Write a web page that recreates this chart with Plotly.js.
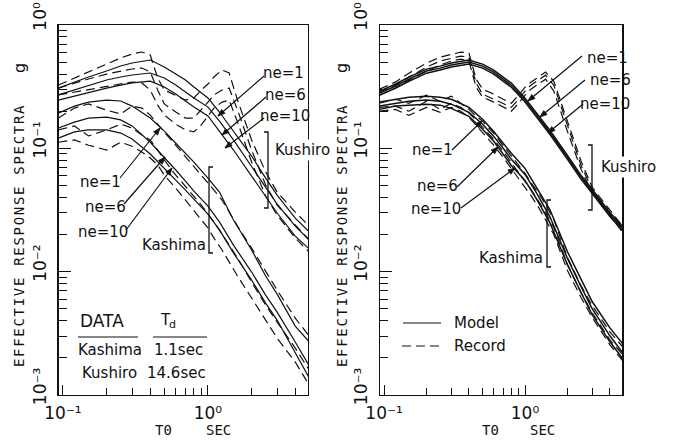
<!DOCTYPE html>
<html>
<head>
<meta charset="utf-8">
<script src="https://cdn.plot.ly/plotly-3.0.1.min.js"></script>
<style>html,body{margin:0;padding:0;background:#fff;}#chart{width:690px;height:440px;}</style>
</head>
<body>
<div id="chart"></div>
<script>
// ---- periods (sec) ----
const T_MODEL  = [0.093, 0.12, 0.15, 0.2, 0.25, 0.3, 0.4, 0.5, 0.6, 0.7, 0.8, 1.0, 1.2, 1.5, 2.0, 2.5, 3.0, 4.0, 5.0];
const T_RECORD = [0.093, 0.12, 0.15, 0.2, 0.25, 0.3, 0.35, 0.4, 0.45, 0.5, 0.6, 0.7, 0.8, 0.9, 1.0, 1.1, 1.25, 1.4, 1.6, 2.0, 2.5, 3.0, 4.0, 5.0];

// ---- left panel ----
const kushiroModelL_ne1  = [0.308,0.345,0.379,0.424,0.465,0.492,0.520,0.456,0.400,0.358,0.314,0.256,0.197,0.138,0.0866,0.0574,0.0418,0.0272,0.0210];
const kushiroModelL_ne6  = [0.271,0.297,0.320,0.358,0.379,0.393,0.408,0.372,0.326,0.286,0.256,0.216,0.166,0.117,0.0718,0.0485,0.0353,0.0234,0.0180];
const kushiroModelL_ne10 = [0.246,0.266,0.281,0.308,0.326,0.339,0.351,0.314,0.276,0.242,0.216,0.183,0.138,0.0969,0.0596,0.0403,0.0299,0.0194,0.0153];
const kushiroRecordL_1  = [0.326,0.372,0.416,0.483,0.540,0.582,0.604,0.571,0.372,0.297,0.266,0.246,0.256,0.297,0.332,0.379,0.432,0.408,0.246,0.117,0.0643,0.0442,0.0304,0.0234];
const kushiroRecordL_6  = [0.308,0.339,0.365,0.400,0.424,0.440,0.448,0.416,0.297,0.229,0.197,0.176,0.176,0.204,0.237,0.271,0.297,0.308,0.204,0.0969,0.0504,0.0347,0.0239,0.0180];
const kushiroRecordL_10 = [0.271,0.286,0.297,0.320,0.332,0.345,0.339,0.297,0.224,0.186,0.157,0.141,0.136,0.155,0.183,0.212,0.237,0.246,0.163,0.0774,0.0410,0.0288,0.0187,0.0144];
const kashimaModelL_ne1  = [0.193,0.220,0.237,0.246,0.242,0.220,0.176,0.138,0.110,0.0916,0.0774,0.0574,0.0442,0.0262,0.0150,0.00921,0.00658,0.00362,0.00269];
const kashimaModelL_ne6  = [0.146,0.163,0.176,0.179,0.170,0.152,0.112,0.0850,0.0667,0.0543,0.0450,0.0340,0.0253,0.0164,0.00993,0.00646,0.00470,0.00269,0.00172];
const kashimaModelL_ne10 = [0.121,0.136,0.141,0.141,0.133,0.119,0.0899,0.0692,0.0553,0.0459,0.0388,0.0293,0.0218,0.0142,0.00855,0.00556,0.00405,0.00223,0.00137];
const kashimaRecordL_1  = [0.176,0.212,0.229,0.204,0.190,0.220,0.212,0.186,0.157,0.136,0.106,0.0866,0.0718,0.0607,0.0523,0.0459,0.0381,0.0304,0.0234,0.0155,0.00993,0.00709,0.00420,0.00300];
const kashimaRecordL_6  = [0.141,0.152,0.126,0.141,0.157,0.146,0.128,0.117,0.0969,0.0804,0.0607,0.0494,0.0410,0.0347,0.0293,0.0253,0.0202,0.0164,0.0129,0.00823,0.00536,0.00390,0.00240,0.00159];
const kashimaRecordL_10 = [0.112,0.117,0.106,0.0969,0.112,0.104,0.0933,0.0834,0.0732,0.0607,0.0476,0.0381,0.0316,0.0262,0.0226,0.0187,0.0150,0.0120,0.00921,0.00611,0.00405,0.00289,0.00185,0.00120];

// ---- right panel ----
const kushiroModelR_ne1  = [0.291,0.331,0.378,0.439,0.464,0.491,0.519,0.482,0.431,0.378,0.338,0.255,0.196,0.140,0.0877,0.0603,0.0464,0.0302,0.0228];
const kushiroModelR_ne6  = [0.280,0.319,0.364,0.423,0.447,0.473,0.500,0.464,0.415,0.364,0.325,0.246,0.189,0.135,0.0845,0.0581,0.0447,0.0291,0.0220];
const kushiroModelR_ne10 = [0.270,0.307,0.350,0.407,0.431,0.456,0.482,0.447,0.400,0.350,0.313,0.237,0.182,0.130,0.0814,0.0560,0.0431,0.0280,0.0211];
const kushiroRecordR_1  = [0.302,0.344,0.407,0.491,0.549,0.581,0.603,0.592,0.364,0.302,0.275,0.250,0.232,0.270,0.313,0.344,0.378,0.415,0.350,0.166,0.0784,0.0482,0.0319,0.0228];
const kushiroRecordR_6  = [0.285,0.325,0.378,0.456,0.510,0.539,0.560,0.549,0.338,0.275,0.250,0.232,0.215,0.250,0.291,0.325,0.357,0.392,0.325,0.151,0.0727,0.0455,0.0302,0.0215];
const kushiroRecordR_10 = [0.270,0.307,0.357,0.423,0.473,0.510,0.529,0.510,0.313,0.260,0.237,0.215,0.200,0.232,0.270,0.302,0.331,0.364,0.291,0.137,0.0675,0.0431,0.0285,0.0204];
const kashimaModelR_ne1  = [0.237,0.250,0.260,0.265,0.260,0.250,0.215,0.172,0.137,0.110,0.0911,0.0688,0.0491,0.0319,0.0145,0.00861,0.00570,0.00350,0.00255];
const kashimaModelR_ne6  = [0.220,0.232,0.241,0.246,0.241,0.228,0.196,0.157,0.125,0.100,0.0814,0.0615,0.0439,0.0280,0.0128,0.00755,0.00500,0.00302,0.00215];
const kashimaModelR_ne10 = [0.207,0.220,0.224,0.228,0.224,0.211,0.182,0.143,0.114,0.0894,0.0727,0.0549,0.0392,0.0250,0.0114,0.00675,0.00447,0.00270,0.00193];
const kashimaRecordR_1  = [0.232,0.250,0.232,0.270,0.241,0.265,0.232,0.207,0.182,0.166,0.132,0.106,0.0861,0.0727,0.0626,0.0529,0.0431,0.0350,0.0265,0.0130,0.00769,0.00529,0.00325,0.00241];
const kashimaRecordR_6  = [0.215,0.220,0.200,0.241,0.207,0.232,0.215,0.193,0.169,0.148,0.118,0.0945,0.0769,0.0638,0.0549,0.0464,0.0371,0.0302,0.0228,0.0114,0.00675,0.00464,0.00280,0.00208];
const kashimaRecordR_10 = [0.200,0.207,0.185,0.215,0.196,0.215,0.200,0.179,0.154,0.135,0.106,0.0845,0.0688,0.0570,0.0491,0.0415,0.0331,0.0265,0.0200,0.0102,0.00615,0.00423,0.00255,0.00186];

// ---- ticks ----
const X_TICKS = [0.1, 1];
const X_TICKTEXT = ['10⁻¹', '10⁰'];
const X_MINOR = [0.2,0.3,0.4,0.5,0.6,0.7,0.8,0.9,2,3,4];
const Y_TICKS = [0.001, 0.01, 0.1, 1];
const Y_TICKTEXT = ['10⁻³', '10⁻²', '10⁻¹', '10⁰'];
const Y_MINOR = [0.002,0.003,0.004,0.005,0.006,0.007,0.008,0.009,0.02,0.03,0.04,0.05,0.06,0.07,0.08,0.09,0.2,0.3,0.4,0.5,0.6,0.7,0.8,0.9];

const INK = '#111';
const P = x => x / 690, Q = y => 1 - y / 440;

function line(xs, ys, axis, dashed, w) {
  return { x: xs, y: ys, type: 'scatter', mode: 'lines', xaxis: 'x' + axis, yaxis: 'y' + axis,
    line: { color: INK, width: w || 1.2, dash: dashed ? '9px,5px' : 'solid' }, hoverinfo: 'skip' };
}
const data = [
  line(T_MODEL, kushiroModelL_ne1, '', false), line(T_MODEL, kushiroModelL_ne6, '', false), line(T_MODEL, kushiroModelL_ne10, '', false),
  line(T_RECORD, kushiroRecordL_1, '', true), line(T_RECORD, kushiroRecordL_6, '', true), line(T_RECORD, kushiroRecordL_10, '', true),
  line(T_MODEL, kashimaModelL_ne1, '', false), line(T_MODEL, kashimaModelL_ne6, '', false), line(T_MODEL, kashimaModelL_ne10, '', false),
  line(T_RECORD, kashimaRecordL_1, '', true), line(T_RECORD, kashimaRecordL_6, '', true), line(T_RECORD, kashimaRecordL_10, '', true),
  line(T_MODEL, kushiroModelR_ne1, '2', false, 1.5), line(T_MODEL, kushiroModelR_ne6, '2', false, 1.5), line(T_MODEL, kushiroModelR_ne10, '2', false, 1.5),
  line(T_RECORD, kushiroRecordR_1, '2', true), line(T_RECORD, kushiroRecordR_6, '2', true), line(T_RECORD, kushiroRecordR_10, '2', true),
  line(T_MODEL, kashimaModelR_ne1, '2', false, 1.5), line(T_MODEL, kashimaModelR_ne6, '2', false, 1.5), line(T_MODEL, kashimaModelR_ne10, '2', false, 1.5),
  line(T_RECORD, kashimaRecordR_1, '2', true), line(T_RECORD, kashimaRecordR_6, '2', true), line(T_RECORD, kashimaRecordR_10, '2', true)
];

const tickFont = { family: 'DejaVu Sans', size: 17, color: INK };
function xax(domain, anchor) {
  return { type: 'log', range: [-1.03, 0.69], domain: domain, anchor: anchor,
    showline: true, linecolor: INK, linewidth: 1.3, mirror: true, showgrid: false, zeroline: false,
    tickmode: 'array', tickvals: X_TICKS, ticktext: X_TICKTEXT, ticks: 'inside', ticklen: 10, tickcolor: INK, tickwidth: 1,
    minor: { tickmode: 'array', tickvals: X_MINOR, ticks: 'inside', ticklen: 7, tickcolor: INK, tickwidth: 1, showgrid: false },
    tickfont: tickFont, ticklabelstandoff: 2, fixedrange: true };
}
function yax(domain, anchor) {
  return { type: 'log', range: [-3, 0], domain: domain, anchor: anchor,
    showline: true, linecolor: INK, linewidth: 1.3, mirror: true, showgrid: false, zeroline: false,
    tickmode: 'array', tickvals: Y_TICKS, ticktext: Y_TICKTEXT, ticks: 'inside', ticklen: 12, tickcolor: INK, tickwidth: 1,
    minor: { tickmode: 'array', tickvals: Y_MINOR, ticks: 'inside', ticklen: 8, tickcolor: INK, tickwidth: 1, showgrid: false },
    tickfont: tickFont, tickangle: -90, ticklabelstandoff: 5, ticklabelshift: -6, ticklabeloverflow: 'allow',
    fixedrange: true };
}

const txtFont = { family: 'DejaVu Sans', size: 15, color: INK };
const monoFont = { family: 'DejaVu Sans Mono', size: 14, color: INK };
function label(x, y, text, extra) {
  return Object.assign({ x: P(x), y: Q(y), xref: 'paper', yref: 'paper', text: text, showarrow: false,
    font: txtFont, xanchor: 'center', yanchor: 'middle' }, extra || {});
}
const annotations = [
  // left panel, Kushiro
  label(283, 73, 'ne=1'), label(285, 95, 'ne=6'), label(285, 116, 'ne=10'),
  label(302, 150, 'Kushiro', { bgcolor: '#fff' }),
  // left panel, Kashima
  label(100, 182, 'ne=1'), label(105, 207, 'ne=6'), label(103, 232, 'ne=10'),
  label(174, 245, 'Kashima'),
  // table
  label(102, 321, 'DATA', { font: { family: 'DejaVu Sans', size: 17, color: INK } }),
  label(165, 320, 'T'), label(172, 324, 'd', { font: { family: 'DejaVu Sans', size: 11, color: INK } }),
  label(110, 350, 'Kashima'), label(178, 350, '1.1sec'),
  label(109, 373, 'Kushiro'), label(176, 373, '14.6sec'),
  // left axis titles
  label(19, 235, 'EFFECTIVE RESPONSE SPECTRA', { font: monoFont, textangle: -90 }),
  label(19, 68, 'g', { font: { family: 'DejaVu Sans', size: 16, color: INK }, textangle: -90 }),
  label(163, 430, 'T0', { font: monoFont }), label(218, 430, 'SEC', { font: monoFont }),
  // right panel, Kushiro
  label(607, 58, 'ne=1'), label(610, 80, 'ne=6'), label(605, 104, 'ne=10'),
  label(628, 167, 'Kushiro', { bgcolor: '#fff' }),
  // right panel, Kashima
  label(432, 150, 'ne=1'), label(437, 186, 'ne=6'), label(436, 209, 'ne=10'),
  label(511, 258, 'Kashima'),
  // legend
  label(476, 323, 'Model'), label(480, 346, 'Record'),
  // right axis titles
  label(342, 235, 'EFFECTIVE RESPONSE SPECTRA', { font: monoFont, textangle: -90 }),
  label(341, 68, 'g', { font: { family: 'DejaVu Sans', size: 16, color: INK }, textangle: -90 }),
  label(490, 430, 'T0', { font: monoFont }), label(542, 430, 'SEC', { font: monoFont })
];

function seg(x0, y0, x1, y1, dash) {
  return { type: 'line', xref: 'paper', yref: 'paper', x0: P(x0), y0: Q(y0), x1: P(x1), y1: Q(y1),
    line: { color: INK, width: 1.2, dash: dash || 'solid' } };
}
function bracket(x, y0, y1, dir) {
  return { type: 'path', xref: 'paper', yref: 'paper', line: { color: INK, width: 1.3 },
    path: `M ${P(x + dir * 4)} ${Q(y0)} L ${P(x)} ${Q(y0)} L ${P(x)} ${Q(y1)} L ${P(x + dir * 4)} ${Q(y1)}` };
}
function arrow(tx, ty, hx, hy) {
  const dx = hx - tx, dy = hy - ty, L = Math.hypot(dx, dy), ux = dx / L, uy = dy / L;
  const bx = hx - ux * 7, by = hy - uy * 7, nx = -uy * 2.6, ny = ux * 2.6;
  return [
    seg(tx, ty, hx, hy),
    { type: 'path', xref: 'paper', yref: 'paper', fillcolor: INK, line: { color: INK, width: 0.8 },
      path: `M ${P(hx)} ${Q(hy)} L ${P(bx + nx)} ${Q(by + ny)} L ${P(bx - nx)} ${Q(by - ny)} Z` }
  ];
}
const shapes = [
  seg(78, 337, 138, 337), seg(153, 337, 207, 337),
  bracket(268, 132, 208, -1), bracket(209, 167, 253, 1),
  bracket(592, 145, 210, -1), bracket(547, 200, 267, 1),
  seg(403, 323, 441, 323), seg(402, 346, 441, 346, '9px,5px'),
  ...arrow(264, 76, 218, 116), ...arrow(266, 97, 222, 135), ...arrow(264, 118, 225, 148),
  ...arrow(120, 178, 160, 128), ...arrow(124, 204, 165, 157), ...arrow(126, 230, 172, 168),
  ...arrow(582, 56, 528, 101), ...arrow(585, 80, 540, 117), ...arrow(583, 104, 548, 133),
  ...arrow(452, 150, 482, 121), ...arrow(457, 187, 498, 147), ...arrow(461, 208, 515, 168)
];

const layout = {
  width: 690, height: 440, margin: { l: 0, r: 0, t: 0, b: 0 },
  paper_bgcolor: '#fff', plot_bgcolor: '#fff', showlegend: false,
  xaxis: xax([58.6 / 690, 308 / 690], 'y'),
  yaxis: yax([1 - 395 / 440, 1 - 25 / 440], 'x'),
  xaxis2: xax([379.8 / 690, 622.3 / 690], 'y2'),
  yaxis2: yax([1 - 395 / 440, 1 - 25 / 440], 'x2'),
  annotations: annotations, shapes: shapes
};
Plotly.newPlot('chart', data, layout, { staticPlot: true, displayModeBar: false }).then(() => {
  document.querySelectorAll('.annotation-text').forEach(el => {
    if (el.textContent.indexOf('EFFECTIVE') === 0) el.style.letterSpacing = '1.7px';
  });
});
</script>
</body>
</html>
